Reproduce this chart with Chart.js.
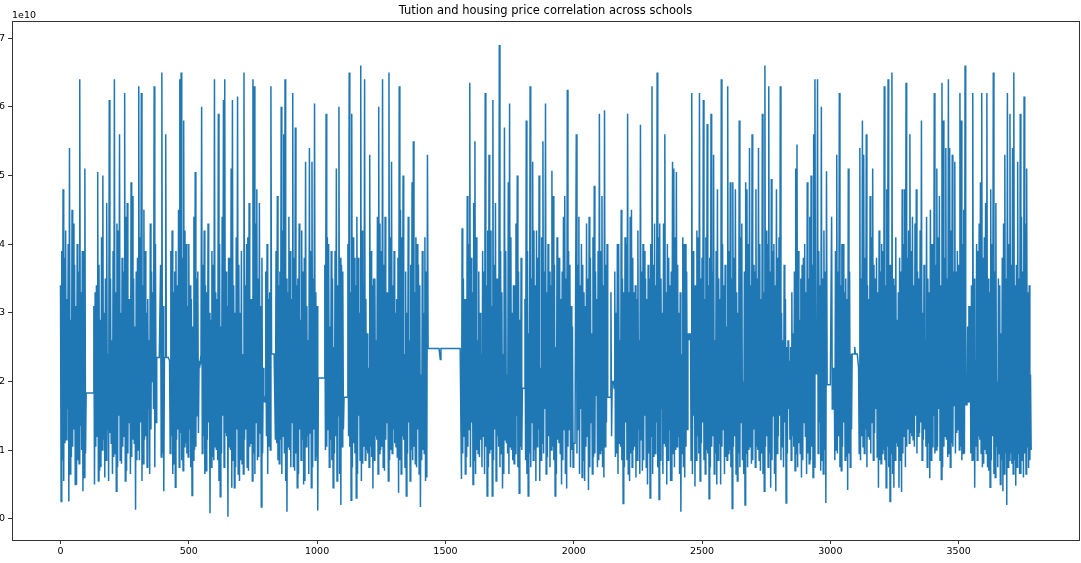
<!DOCTYPE html>
<html>
<head>
<meta charset="utf-8">
<script src="https://cdn.jsdelivr.net/npm/chart.js@4.4.1/dist/chart.umd.min.js"></script>
<style>
    html, body { margin: 0; padding: 0; background: #fff; }
    #wrap { width: 1081px; height: 563px; position: relative; }
</style>
</head>
<body>
<div id="wrap"><canvas id="price_line_chart"></canvas></div>
<script>
/* =========================
   Data (values in units of 1e10, one point every 2.5 schools)
========================= */
const chartTitle = 'Tution and housing price correlation across schools';
const offsetLabel = '1e10';
const indexStep = 2.5;
const xTicks = [0, 500, 1000, 1500, 2000, 2500, 3000, 3500];
const yTicks = [0, 1, 2, 3, 4, 5, 6, 7];
const xLimits = [-189, 3969];
const yLimits = [-0.31, 7.25];

const priceValues = [
    // 0
    3.4, 0.25, 3.9, 0.85, 4.8, 0.55, 3.8, 1.1, 4.2, 1.15, 3.2, 1.6, 4.0, 0.25, 5.4, 0.65, 2.9, 0.9, 4.5, 1.05,
    4.3, 1.3, 3.7, 0.5, 3.1, 0.5, 4.0, 0.85, 3.6, 0.8, 6.4, 1.35, 3.3, 1.0, 3.9, 0.4, 3.9, 0.6, 5.1, 0.95,
    // 100
    1.83, 1.83, 1.83, 1.83, 1.83, 1.83, 1.83, 1.83, 1.83, 1.83, 1.83, 1.83, 3.1, 0.5, 3.3, 1.05, 3.4, 1.2, 5.05, 0.55,
    3.7, 0.7, 2.9, 0.75, 4.1, 1.0, 5.0, 1.15, 3.0, 0.6, 3.5, 0.85, 4.6, 1.3, 2.4, 0.55, 6.1, 1.25, 3.5, 1.1,
    // 200
    2.6, 0.65, 3.9, 0.9, 6.4, 0.95, 3.3, 0.4, 4.3, 0.75, 4.2, 1.5, 5.6, 0.85, 3.0, 0.8, 3.8, 1.05, 3.6, 1.2,
    6.2, 0.55, 4.4, 0.7, 4.6, 0.95, 3.2, 1.4, 3.2, 0.65, 4.9, 0.9, 4.7, 1.15, 3.5, 1.1, 2.8, 0.13, 3.6, 0.85,
    // 300
    3.8, 1.0, 6.3, 0.85, 4.1, 1.4, 6.2, 0.55, 3.4, 0.8, 4.5, 1.15, 3.9, 1.2, 3.0, 0.75, 3.2, 1.6, 2.6, 0.65,
    4.3, 1.3, 3.6, 2.0, 3.3, 1.6, 6.3, 0.75, 4.0, 1.4, 2.35, 2.35, 2.35, 2.35, 2.35, 2.35, 3.7, 0.9, 6.5, 0.95,
    // 400
    3.1, 0.4, 2.35, 2.35, 5.6, 2.35, 2.35, 2.35, 2.35, 2.35, 2.3, 0.95, 3.9, 1.2, 4.2, 0.65, 3.3, 0.8, 3.6, 0.46,
    3.9, 1.15, 3.4, 1.3, 4.5, 0.75, 6.4, 1.25, 6.5, 0.85, 3.8, 0.7, 5.8, 1.05, 4.2, 1.1, 4.0, 0.95, 3.1, 0.9,
    // 500
    4.0, 1.3, 3.4, 0.75, 3.2, 0.34, 2.8, 0.85, 4.4, 1.0, 5.05, 1.05, 3.5, 1.5, 3.6, 1.25, 2.3, 2.2, 2.3, 2.25,
    6.0, 0.95, 3.7, 1.2, 4.2, 0.65, 3.4, 0.7, 3.3, 1.15, 4.3, 1.4, 3.0, 0.08, 2.9, 0.75, 3.9, 0.9, 3.7, 0.85,
    // 600
    6.4, 1.05, 3.3, 1.0, 3.2, 0.85, 5.9, 0.55, 4.0, 0.32, 2.8, 0.95, 4.4, 1.5, 6.1, 0.75, 6.4, 1.25, 3.6, 1.2,
    3.1, 0.03, 3.8, 1.05, 3.8, 1.0, 5.1, 0.45, 6.1, 0.85, 3.4, 0.45, 3.0, 0.75, 4.1, 1.3, 6.15, 0.65, 3.7, 0.55,
    // 700
    3.0, 0.85, 3.9, 0.8, 2.4, 0.65, 6.5, 1.15, 3.4, 1.3, 4.0, 0.75, 4.1, 0.7, 4.6, 1.05, 3.2, 1.1, 3.2, 0.55,
    6.4, 0.95, 6.3, 0.65, 4.3, 1.4, 4.8, 0.85, 3.5, 0.9, 4.6, 1.25, 3.1, 0.17, 3.8, 0.95, 2.2, 1.7, 1.75, 1.7,
    // 800
    3.6, 1.2, 4.0, 0.65, 3.2, 1.05, 3.3, 1.0, 6.3, 2.4, 2.4, 2.4, 2.4, 2.4, 2.4, 1.15, 3.9, 1.1, 4.7, 0.85,
    3.4, 0.8, 3.6, 1.15, 6.0, 0.65, 4.2, 1.2, 5.6, 0.95, 6.4, 0.55, 3.5, 0.1, 3.3, 1.05, 4.4, 1.0, 3.9, 0.75,
    // 900
    3.2, 1.4, 6.2, 0.75, 3.8, 0.7, 5.7, 0.95, 3.4, 0.45, 3.5, 0.65, 4.3, 1.3, 2.9, 0.85, 4.2, 1.15, 3.6, 0.5,
    3.8, 0.55, 5.2, 1.05, 3.1, 1.2, 2.6, 0.65, 5.4, 1.25, 3.9, 0.45, 5.2, 0.75, 3.5, 1.3, 6.05, 0.85, 3.3, 0.9,
    // 1000
    3.1, 0.12, 2.05, 2.05, 2.05, 2.05, 2.05, 2.05, 2.05, 2.05, 2.05, 2.05, 3.7, 1.0, 5.9, 1.05, 4.1, 1.3, 4.0, 0.75,
    2.8, 1.15, 3.9, 0.85, 3.5, 0.45, 2.5, 0.95, 3.9, 1.2, 5.1, 0.55, 3.4, 1.5, 6.0, 0.65, 3.8, 0.2, 3.7, 1.05,
    // 1100
    3.6, 1.3, 1.77, 1.77, 1.77, 1.77, 1.77, 1.77, 4.0, 1.2, 6.5, 1.05, 3.3, 0.27, 5.9, 0.75, 4.1, 1.1, 3.8, 0.95,
    3.4, 0.3, 4.4, 0.65, 3.8, 1.5, 3.0, 0.85, 6.6, 0.55, 4.2, 0.8, 3.4, 1.05, 6.4, 0.85, 3.2, 1.0, 2.7, 0.95,
    // 1200
    2.2, 0.75, 5.3, 1.05, 3.9, 0.9, 3.4, 0.44, 3.5, 0.85, 3.5, 1.2, 2.6, 1.15, 4.4, 0.65, 6.0, 0.95, 4.3, 1.0,
    3.9, 1.05, 6.4, 0.75, 3.7, 0.7, 4.4, 1.15, 3.3, 1.4, 3.3, 0.55, 6.5, 0.85, 4.1, 1.0, 5.2, 0.95, 3.4, 1.3,
    // 1300
    3.9, 1.1, 3.0, 1.05, 3.2, 0.9, 3.8, 0.38, 6.3, 0.85, 4.5, 0.65, 4.1, 1.2, 5.0, 1.15, 2.4, 0.75, 3.6, 0.33,
    3.0, 0.95, 4.4, 1.4, 2.6, 0.55, 3.7, 1.0, 4.9, 0.85, 5.5, 1.05, 3.3, 0.8, 4.1, 0.75, 4.0, 1.3, 3.7, 0.65,
    // 1400
    3.4, 0.17, 2.1, 0.85, 3.9, 1.0, 3.0, 0.95, 4.1, 0.55, 3.6, 0.6, 5.3, 2.48, 2.48, 2.48, 2.48, 2.48, 2.48, 2.48,
    2.48, 2.48, 2.48, 2.48, 2.48, 2.48, 2.48, 2.48, 2.48, 2.48, 2.48, 2.48, 2.32, 2.48, 2.48, 2.48, 2.48, 2.48, 2.48, 2.48,
    // 1500
    2.48, 2.48, 2.48, 2.48, 2.48, 2.48, 2.48, 2.48, 2.48, 2.48, 2.48, 2.48, 2.48, 2.48, 2.48, 2.48, 2.48, 2.48, 2.48, 2.48,
    2.48, 2.48, 2.48, 2.48, 2.48, 0.58, 4.23, 0.95, 3.5, 1.2, 3.2, 0.65, 3.2, 0.9, 4.7, 1.05, 4.0, 1.3, 6.35, 0.75,
    // 1600
    3.8, 1.4, 3.3, 0.5, 4.6, 0.85, 5.5, 0.65, 4.1, 1.0, 2.6, 0.95, 3.6, 0.9, 3.0, 1.15, 2.4, 0.75, 3.9, 1.2,
    3.6, 0.65, 6.2, 1.05, 3.4, 0.33, 4.2, 0.75, 5.3, 0.95, 4.2, 1.0, 3.1, 0.33, 6.1, 0.85, 3.7, 1.3, 4.6, 0.55,
    // 1700
    3.5, 1.2, 3.5, 1.05, 6.9, 0.75, 3.9, 0.95, 3.3, 0.44, 2.4, 0.65, 5.7, 1.15, 3.9, 1.1, 2.1, 0.95, 4.9, 0.65,
    6.05, 1.05, 4.1, 1.0, 3.0, 0.85, 3.4, 0.8, 3.4, 0.95, 4.3, 1.5, 5.0, 0.75, 3.6, 0.37, 2.9, 1.05, 3.8, 1.0,
    // 1800
    1.9, 1.9, 1.9, 1.9, 3.2, 0.85, 5.8, 0.65, 3.9, 0.33, 2.7, 0.95, 6.3, 0.75, 3.5, 1.4, 5.2, 0.85, 4.2, 1.0,
    3.4, 0.55, 4.2, 1.05, 3.8, 1.3, 5.0, 0.55, 2.2, 0.85, 4.1, 1.1, 5.5, 0.95, 3.6, 1.6, 6.05, 0.65, 3.3, 0.9,
    // 1900
    4.0, 1.2, 3.6, 0.75, 3.4, 1.0, 5.07, 1.05, 4.7, 0.85, 3.7, 0.33, 2.5, 0.65, 4.1, 1.15, 3.8, 1.1, 3.8, 0.95,
    3.2, 0.5, 3.6, 0.85, 4.4, 1.3, 4.7, 0.65, 3.5, 0.44, 6.25, 1.05, 3.9, 1.3, 3.7, 0.75, 3.1, 1.0, 2.8, 0.75,
    // 2000
    1.1, 1.1, 1.1, 1.1, 5.6, 0.95, 3.7, 1.3, 4.4, 0.65, 3.4, 1.6, 4.0, 0.6, 3.7, 0.85, 3.3, 0.55, 3.1, 1.05,
    4.3, 1.2, 3.5, 0.42, 4.4, 0.75, 3.8, 1.4, 2.7, 0.65, 4.1, 0.9, 4.85, 0.95, 3.6, 1.8, 3.2, 0.75, 3.9, 0.85,
    // 2100
    5.9, 0.95, 3.9, 1.0, 4.7, 0.75, 3.4, 0.6, 5.95, 1.05, 3.7, 1.4, 4.0, 1.77, 1.77, 1.77, 1.77, 1.77, 3.3, 1.2,
    2.0, 2.0, 2.0, 1.9, 3.6, 0.9, 3.0, 0.95, 4.0, 0.65, 4.0, 1.1, 2.6, 1.05, 4.5, 0.85, 3.5, 0.22, 3.3, 0.75,
    // 2200
    4.1, 1.4, 4.0, 0.85, 5.9, 0.65, 3.3, 0.55, 4.4, 0.95, 4.5, 0.75, 3.8, 1.0, 3.3, 1.05, 3.4, 0.6, 3.2, 0.85,
    4.2, 1.3, 2.6, 0.65, 5.74, 1.15, 3.6, 0.7, 4.0, 0.85, 3.9, 1.5, 3.5, 0.75, 3.2, 0.5, 3.7, 0.95, 3.5, 0.3,
    // 2300
    4.0, 1.2, 6.3, 0.65, 3.7, 0.9, 4.3, 0.95, 3.4, 1.4, 6.5, 0.75, 4.1, 0.28, 4.3, 0.85, 3.5, 1.6, 3.0, 0.65,
    4.3, 1.1, 5.6, 1.05, 3.3, 0.5, 4.0, 0.85, 3.8, 1.3, 3.4, 0.55, 3.6, 0.55, 5.2, 0.95, 5.1, 0.75, 4.1, 1.0,
    // 2400
    5.05, 1.05, 3.7, 1.2, 3.0, 0.65, 3.3, 0.1, 2.4, 0.95, 4.1, 0.75, 4.0, 0.6, 4.0, 1.05, 3.6, 1.3, 2.7, 2.6,
    2.7, 2.6, 2.7, 0.85, 6.2, 0.65, 3.9, 1.5, 3.4, 0.47, 3.4, 0.85, 4.2, 1.2, 4.1, 0.95, 6.2, 0.55, 3.5, 1.1,
    // 2500
    3.8, 1.4, 6.1, 0.85, 3.2, 0.65, 4.1, 1.0, 5.75, 0.95, 3.4, 0.29, 3.8, 0.75, 5.9, 1.05, 3.6, 1.2, 5.3, 0.65,
    2.6, 0.95, 3.9, 0.5, 4.8, 0.85, 3.5, 1.1, 3.2, 0.5, 6.4, 1.05, 4.0, 1.3, 3.4, 0.65, 3.7, 0.9, 2.8, 0.85,
    // 2600
    6.3, 0.95, 3.9, 1.0, 4.9, 0.75, 3.5, 0.15, 4.9, 1.05, 3.8, 1.2, 4.8, 0.65, 3.3, 0.55, 3.0, 0.95, 5.8, 0.75,
    4.1, 1.4, 4.3, 0.85, 2.0, 0.65, 3.6, 0.2, 4.9, 0.95, 4.8, 0.75, 4.0, 1.0, 5.4, 1.05, 3.4, 0.8, 5.6, 0.85,
    // 2700
    3.7, 1.3, 3.6, 0.75, 4.8, 1.05, 3.5, 1.0, 5.4, 0.85, 4.0, 0.7, 3.2, 0.95, 5.9, 0.65, 3.3, 0.4, 6.6, 1.05,
    4.2, 1.2, 4.0, 0.75, 6.3, 0.95, 3.6, 0.45, 4.95, 0.85, 3.9, 1.5, 4.0, 0.65, 3.4, 0.4, 4.8, 0.95, 3.8, 1.2,
    // 2800
    4.1, 1.5, 6.3, 0.85, 3.0, 1.05, 2.6, 0.75, 3.7, 1.4, 3.2, 0.23, 2.5, 0.95, 2.6, 1.6, 2.3, 1.15, 2.5, 0.85,
    3.3, 1.2, 2.7, 1.05, 3.6, 0.7, 5.1, 0.95, 5.45, 0.75, 3.9, 1.1, 2.9, 0.95, 3.5, 0.6, 3.7, 0.85, 3.8, 1.4,
    // 2900
    4.0, 1.2, 3.3, 0.65, 4.9, 0.95, 3.5, 0.8, 4.4, 0.85, 5.0, 1.05, 3.7, 0.6, 5.6, 0.75, 6.4, 2.1, 2.6, 2.1,
    6.4, 0.95, 3.9, 1.4, 3.4, 0.7, 6.0, 0.85, 3.5, 0.65, 4.2, 1.0, 3.6, 0.23, 5.06, 1.95, 1.95, 1.95, 1.95, 1.95,
    // 3000
    1.95, 1.95, 4.4, 1.6, 2.2, 1.6, 2.2, 0.85, 3.9, 1.0, 5.3, 0.95, 3.6, 1.2, 6.2, 0.75, 3.4, 0.7, 4.0, 1.05,
    4.0, 1.4, 3.3, 0.85, 3.5, 0.9, 3.2, 0.42, 5.1, 0.95, 3.6, 0.75, 2.4, 1.3, 2.4, 2.4, 2.4, 2.4, 2.5, 2.4,
    // 3100
    2.4, 2.4, 2.4, 2.4, 2.2, 0.95, 5.4, 0.85, 3.5, 1.2, 5.8, 1.05, 5.3, 0.95, 3.8, 1.3, 5.6, 0.75, 3.4, 1.2,
    3.2, 1.15, 4.7, 0.95, 4.1, 1.4, 5.1, 0.85, 3.7, 1.25, 3.5, 1.6, 3.8, 0.9, 3.3, 0.45, 4.2, 0.85, 3.6, 0.8,
    // 3200
    4.0, 0.95, 3.9, 1.0, 6.3, 0.85, 3.4, 0.45, 4.8, 1.05, 6.4, 0.75, 3.7, 0.25, 3.7, 0.95, 6.5, 0.65, 3.5, 0.45,
    3.4, 0.85, 4.1, 1.1, 2.9, 1.05, 3.3, 0.45, 3.8, 0.85, 3.6, 0.39, 4.8, 0.95, 4.0, 1.2, 4.8, 0.75, 6.35, 1.05,
    // 3300
    3.8, 1.3, 4.2, 1.1, 5.6, 1.25, 3.9, 1.2, 4.4, 1.15, 3.4, 1.05, 4.3, 1.5, 4.8, 0.95, 3.6, 1.2, 3.5, 1.25,
    4.2, 1.4, 5.8, 0.85, 3.0, 1.15, 3.7, 1.3, 2.6, 1.05, 4.4, 0.75, 3.5, 1.1, 3.3, 0.59, 4.5, 0.85, 4.0, 1.05,
    // 3400
    4.0, 1.5, 6.2, 0.95, 3.7, 1.0, 5.1, 1.05, 4.1, 1.6, 4.7, 0.85, 3.4, 0.57, 6.35, 0.75, 5.8, 1.05, 3.8, 1.2,
    5.4, 1.15, 3.5, 0.9, 6.4, 0.95, 5.4, 0.75, 4.2, 1.1, 5.3, 1.05, 3.6, 1.65, 5.2, 0.95, 3.6, 1.25, 3.9, 1.3,
    // 3500
    3.7, 1.0, 6.2, 1.05, 5.8, 0.85, 4.0, 0.95, 4.5, 0.95, 6.6, 1.65, 1.7, 1.65, 2.8, 1.7, 3.1, 1.7, 3.1, 0.95,
    3.4, 0.85, 6.2, 0.85, 3.5, 0.45, 2.3, 1.05, 4.0, 0.85, 3.9, 1.2, 4.3, 1.15, 4.9, 0.95, 6.2, 0.75, 3.8, 0.8,
    // 3600
    4.1, 1.0, 4.6, 0.95, 6.2, 0.75, 3.5, 0.7, 3.3, 0.46, 4.8, 0.85, 4.0, 1.2, 6.5, 0.65, 3.6, 0.6, 4.6, 1.05,
    2.0, 0.75, 3.5, 0.95, 3.4, 0.5, 2.7, 0.85, 3.8, 0.4, 4.3, 0.65, 5.3, 0.95, 3.5, 0.2, 6.2, 0.75, 4.0, 0.85,
    // 3700 - 3782.5
    5.9, 0.95, 3.7, 0.8, 5.4, 0.65, 6.5, 0.85, 3.4, 0.48, 3.7, 0.75, 5.2, 0.95, 3.5, 0.65, 5.9, 0.65, 4.4, 0.85,
    3.6, 0.6, 6.15, 0.95, 4.3, 0.65, 5.1, 1.05, 3.3, 0.74, 3.4, 0.85, 2.1, 1.0
];


/* =========================
   Frame, title and offset text
========================= */
const figureText = {
    id: 'figureText',
    afterDraw(chart) {
        const { ctx, chartArea } = chart;
        ctx.save();
        ctx.strokeStyle = '#333';
        ctx.lineWidth = 1;
        ctx.strokeRect(chartArea.left + 0.5, chartArea.top + 0.5,
            chartArea.right - chartArea.left, chartArea.bottom - chartArea.top);

        ctx.fillStyle = '#000';
        ctx.font = '11.5px "DejaVu Sans"';
        ctx.textAlign = 'center';
        ctx.textBaseline = 'middle';
        ctx.fillText(chartTitle, (chartArea.left + chartArea.right) / 2, 11);

        ctx.font = '9.5px "DejaVu Sans"';
        ctx.textAlign = 'left';
        ctx.textBaseline = 'alphabetic';
        ctx.fillText(offsetLabel, chartArea.left, 18);
        ctx.restore();
    }
};


/* =========================
   Line Chart
========================= */
const tickFont = { family: 'DejaVu Sans', size: 9.5 };

const ctx = document.getElementById('price_line_chart').getContext('2d');

const priceChart = new Chart(ctx, {
    type: 'line',
    data: {
        datasets: [{
            data: priceValues.map((v, i) => ({ x: i * indexStep, y: v })),
            borderColor: '#1f77b4',
            borderWidth: 1.5,
            pointRadius: 0,
            fill: false,
            tension: 0
        }]
    },
    options: {
        responsive: true,
        maintainAspectRatio: false,
        animation: false,
        layout: {
            padding: { top: 21, right: 2, left: 0, bottom: 0 }
        },
        plugins: {
            legend: { display: false },
            tooltip: { enabled: false }
        },
        scales: {
            x: {
                type: 'linear',
                min: xLimits[0],
                max: xLimits[1],
                afterBuildTicks: axis => { axis.ticks = xTicks.map(v => ({ value: v })); },
                afterFit: axis => { axis.height = 23; },
                grid: { display: true, drawOnChartArea: false, drawTicks: true, tickLength: 4, color: '#333' },
                border: { display: false },
                ticks: {
                    font: tickFont,
                    color: '#000',
                    padding: 2,
                    maxRotation: 0,
                    autoSkip: false,
                    callback: v => String(v)
                }
            },
            y: {
                type: 'linear',
                min: yLimits[0],
                max: yLimits[1],
                afterBuildTicks: axis => { axis.ticks = yTicks.map(v => ({ value: v })); },
                afterFit: axis => { axis.width = 12; },
                grid: { display: true, drawOnChartArea: false, drawTicks: true, tickLength: 4, color: '#333' },
                border: { display: false },
                ticks: {
                    font: tickFont,
                    color: '#000',
                    padding: 3,
                    autoSkip: false,
                    callback: v => String(v)
                }
            }
        }
    },
    plugins: [figureText]
});
</script>
</body>
</html>
